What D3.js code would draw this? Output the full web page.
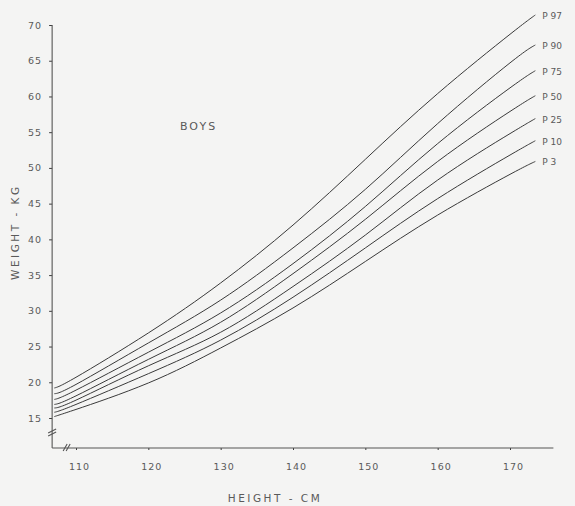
<!DOCTYPE html>
<html>
<head>
<meta charset="utf-8">
<script src="https://cdn.jsdelivr.net/npm/d3@7"></script>
<style>
  body { margin: 0; background: #f4f4f3; }
  svg { display: block; }
</style>
</head>
<body>
<script>
const svgWidth = 575
const svgHeight = 506

// height (cm) where the curves are read
const heights = [107, 110, 120, 130, 140, 150, 160, 170, 173.5]

// weight (kg) per percentile
const p97 = [19.2, 20.7, 26.9, 33.9, 42.0, 51.2, 60.4, 68.7, 71.4]
const p90 = [18.4, 19.7, 25.5, 31.5, 38.8, 47.0, 56.2, 64.7, 67.2]
const p75 = [17.6, 18.9, 24.2, 29.7, 36.6, 44.6, 53.4, 61.2, 63.6]
const p50 = [16.9, 18.1, 23.2, 28.4, 35.2, 42.8, 50.9, 57.9, 60.1]
const p25 = [16.4, 17.5, 22.3, 27.0, 33.4, 40.6, 48.3, 54.8, 56.9]
const p10 = [15.8, 16.9, 21.2, 25.9, 31.9, 38.8, 45.7, 51.8, 53.8]
const p3 = [15.2, 16.2, 19.9, 24.8, 30.4, 36.9, 43.4, 49.1, 50.9]

const seriesNames = ["P 97", "P 90", "P 75", "P 50", "P 25", "P 10", "P 3"]
const seriesValues = [p97, p90, p75, p50, p25, p10, p3]

const xTicks = [110, 120, 130, 140, 150, 160, 170]
const yTicks = [15, 20, 25, 30, 35, 40, 45, 50, 55, 60, 65, 70]

const ink = "#3a3a3a"
const textInk = "#5a5a5a"
const font = "DejaVu Sans, sans-serif"

const x = d3.scaleLinear()
  .domain([110, 170])
  .range([76, 510])

const y = d3.scaleLinear()
  .domain([15, 70])
  .range([418, 25])

const axisLeftX = x(106.7)
const axisBottomY = 448

const svg = d3.select("body").append("svg")
  .attr("width", svgWidth)
  .attr("height", svgHeight)

// y axis
const yAxisG = svg.append("g")
  .attr("transform", `translate(${axisLeftX}, 0)`)
  .call(d3.axisLeft(y).tickValues(yTicks).tickSize(3).tickPadding(7))

yAxisG.select(".domain").remove()
yAxisG.selectAll("line").attr("stroke", ink)
yAxisG.selectAll("text")
  .attr("font-family", font)
  .attr("font-size", 9.5)
  .attr("fill", textInk)
  .attr("letter-spacing", 1)

// x axis
const xAxisG = svg.append("g")
  .attr("transform", `translate(0, ${axisBottomY})`)
  .call(d3.axisBottom(x).tickValues(xTicks).tickSize(2).tickPadding(13))

xAxisG.select(".domain").remove()
xAxisG.selectAll("line").attr("stroke", ink)
xAxisG.selectAll("text")
  .attr("font-family", font)
  .attr("font-size", 9.5)
  .attr("fill", textInk)
  .attr("letter-spacing", 1)
  .attr("dx", 3)

const axisLines = svg.append("g")
  .attr("stroke", "#555")
  .attr("fill", "none")
  .attr("stroke-width", 1.1)

axisLines.append("line")
  .attr("x1", axisLeftX).attr("x2", axisLeftX)
  .attr("y1", y(70)).attr("y2", axisBottomY)

axisLines.append("line")
  .attr("x1", axisLeftX).attr("x2", x(176))
  .attr("y1", axisBottomY).attr("y2", axisBottomY)

// axis break marks
const breakY = axisBottomY - 16
axisLines.append("path")
  .attr("d", `M${axisLeftX - 4},${breakY + 1}L${axisLeftX + 4},${breakY - 3}M${axisLeftX - 4},${breakY + 4}L${axisLeftX + 4},${breakY}`)
const breakX = axisLeftX + 14
axisLines.append("path")
  .attr("d", `M${breakX - 3},${axisBottomY + 3}L${breakX + 1},${axisBottomY - 4}M${breakX},${axisBottomY + 3}L${breakX + 4},${axisBottomY - 4}`)

// curves
const line = d3.line()
  .x((d, i) => x(heights[i]))
  .y(d => y(d))
  .curve(d3.curveNatural)

const curveG = svg.append("g")
  .selectAll("g")
  .data(seriesValues)
  .enter()
  .append("g")

curveG.append("path")
  .attr("d", d => line(d))
  .attr("fill", "none")
  .attr("stroke", ink)
  .attr("stroke-width", 1)

curveG.append("text")
  .text((d, i) => seriesNames[i])
  .attr("x", d => x(heights[heights.length - 1]) + 7)
  .attr("y", d => y(d[d.length - 1]) + 4)
  .attr("font-family", font)
  .attr("font-size", 9)
  .attr("fill", textInk)

// titles
svg.append("text")
  .text("BOYS")
  .attr("x", 180)
  .attr("y", 130)
  .attr("font-family", font)
  .attr("font-size", 11)
  .attr("letter-spacing", 2)
  .attr("fill", textInk)

svg.append("text")
  .text("HEIGHT - CM")
  .attr("text-anchor", "middle")
  .attr("transform", `translate(275, ${svgHeight - 4})`)
  .attr("font-family", font)
  .attr("font-size", 10.5)
  .attr("letter-spacing", 2.5)
  .attr("fill", textInk)

svg.append("text")
  .text("WEIGHT - KG")
  .attr("text-anchor", "middle")
  .attr("transform", `translate(19, ${y(41)}) rotate(-90)`)
  .attr("font-family", font)
  .attr("font-size", 10.5)
  .attr("letter-spacing", 2.5)
  .attr("fill", textInk)
</script>
</body>
</html>
